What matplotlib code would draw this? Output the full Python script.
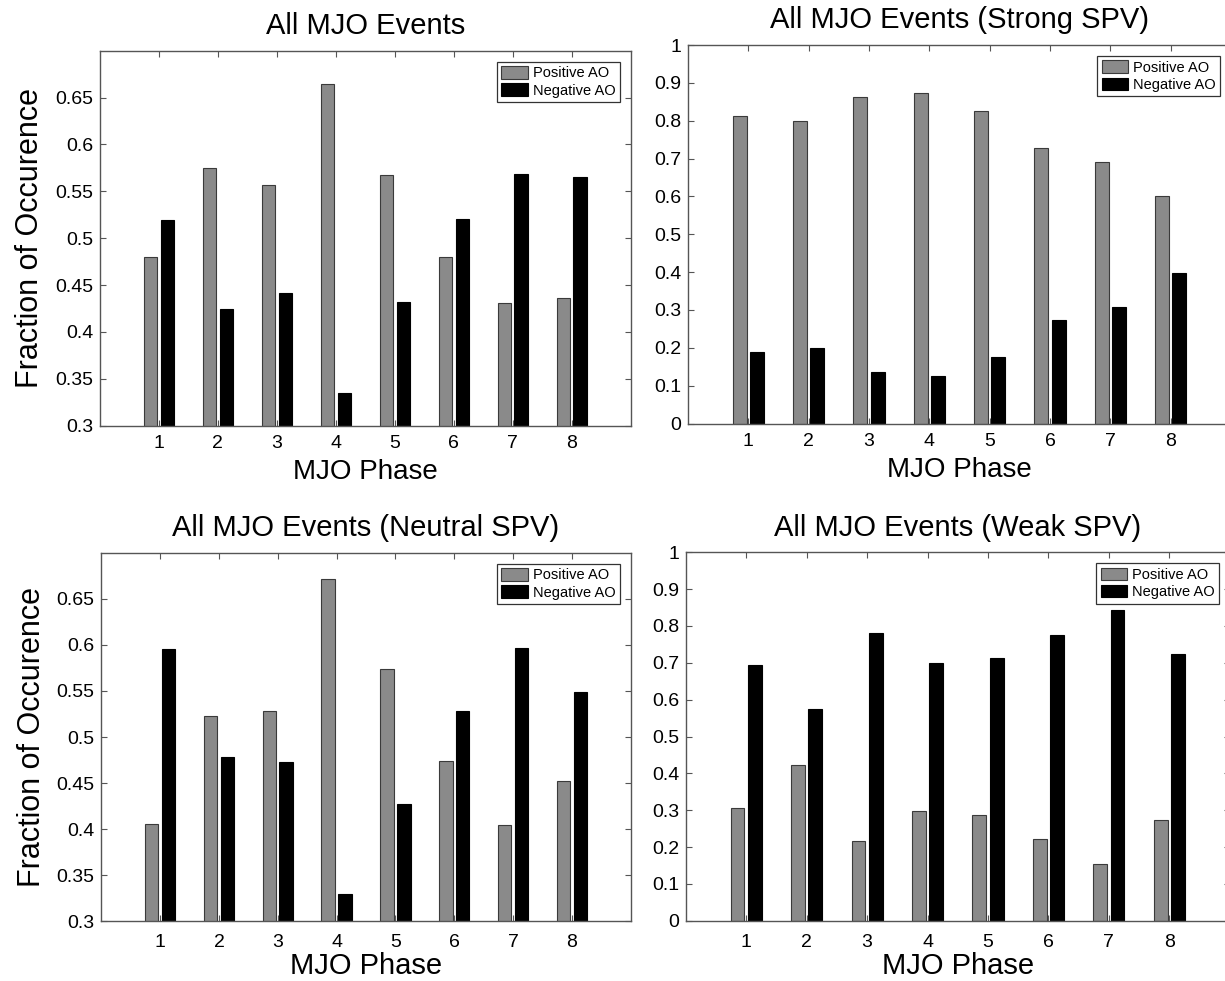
import matplotlib
matplotlib.use("Agg")
import matplotlib.pyplot as plt
import numpy as np
from matplotlib.ticker import FormatStrFormatter

plt.rcParams['font.family'] = ['Liberation Sans', 'DejaVu Sans']

# data (fraction of occurrence per MJO phase)
phases = np.arange(1, 9)
all_pos = [0.480, 0.575, 0.557, 0.665, 0.567, 0.480, 0.431, 0.436]
all_neg = [0.519, 0.424, 0.442, 0.335, 0.432, 0.520, 0.569, 0.565]
strong_pos = [0.812, 0.800, 0.863, 0.874, 0.826, 0.728, 0.692, 0.601]
strong_neg = [0.189, 0.200, 0.136, 0.126, 0.176, 0.273, 0.308, 0.398]
neutral_pos = [0.406, 0.523, 0.528, 0.671, 0.574, 0.474, 0.404, 0.452]
neutral_neg = [0.595, 0.478, 0.473, 0.330, 0.427, 0.528, 0.597, 0.549]
weak_pos = [0.305, 0.423, 0.216, 0.298, 0.287, 0.222, 0.154, 0.274]
weak_neg = [0.695, 0.575, 0.781, 0.700, 0.713, 0.776, 0.844, 0.724]

titles = ["All MJO Events", "All MJO Events (Strong SPV)",
          "All MJO Events (Neutral SPV)", "All MJO Events (Weak SPV)"]
labels = ["Positive AO", "Negative AO"]

W, H = 1225, 981
fig = plt.figure(figsize=(W / 100, H / 100), dpi=100)

# axes boxes in pixels: left, top, right, bottom
boxes = [(100, 50.7, 630.7, 425.7),
         (688, 45, 1231, 423.5),
         (101.3, 552.7, 630.7, 921.3),
         (685.7, 552.3, 1229.8, 920.8)]

panels = [(all_pos, all_neg), (strong_pos, strong_neg),
          (neutral_pos, neutral_neg), (weak_pos, weak_neg)]

spine_c = '#555555'
off = 0.143
bw = 0.228

for i, (box, (pos, neg)) in enumerate(zip(boxes, panels)):
    l, t, r, b = box
    ax = fig.add_axes([l / W, (H - b) / H, (r - l) / W, (b - t) / H])
    ax.bar(phases - off, pos, width=bw, color='#8a8a8a', edgecolor='#3a3a3a',
           linewidth=0.8, label=labels[0])
    ax.bar(phases + off, neg, width=bw, color='black', edgecolor='black',
           linewidth=0.8, label=labels[1])
    ax.set_xlim(0, 9)
    ax.set_xticks(phases)
    if i % 2 == 0:
        ax.set_ylim(0.3, 0.7)
        ax.set_yticks(np.arange(0.3, 0.66, 0.05))
        ax.set_ylabel("Fraction of Occurence", fontsize=22)
        ax.yaxis.set_label_coords(-0.103, 0.5)
    else:
        ax.set_ylim(0, 1)
        ax.set_yticks(np.arange(0, 1.01, 0.1))
    ax.yaxis.set_major_formatter(FormatStrFormatter('%g'))
    xpad = 6.5 if i < 2 else 9.5
    ax.tick_params(axis='x', direction='in', length=4.5, width=0.8,
                   color=spine_c, top=True, pad=xpad, labelsize=14)
    ax.tick_params(axis='y', direction='in', length=4.5, width=0.8,
                   color=spine_c, right=True, pad=4.8, labelsize=14)
    for sp in ax.spines.values():
        sp.set_color(spine_c)
        sp.set_linewidth(1)
    ax.set_title(titles[i], fontsize=21, pad=12)
    if i < 2:
        ax.set_xlabel("MJO Phase", fontsize=20)
        ax.xaxis.set_label_coords(0.5, -0.089)
    else:
        ax.set_xlabel("MJO Phase", fontsize=21)
        ax.xaxis.set_label_coords(0.5, -0.084)
    leg = ax.legend(loc='upper right', fontsize=10.5,
                    fancybox=False, framealpha=1, edgecolor='#333333',
                    handlelength=1.8, handleheight=0.95, handletextpad=0.35,
                    borderpad=0.3, labelspacing=0.2, borderaxespad=0.75)
    leg.get_frame().set_linewidth(0.9)

fig.savefig("out.png", dpi=100)
